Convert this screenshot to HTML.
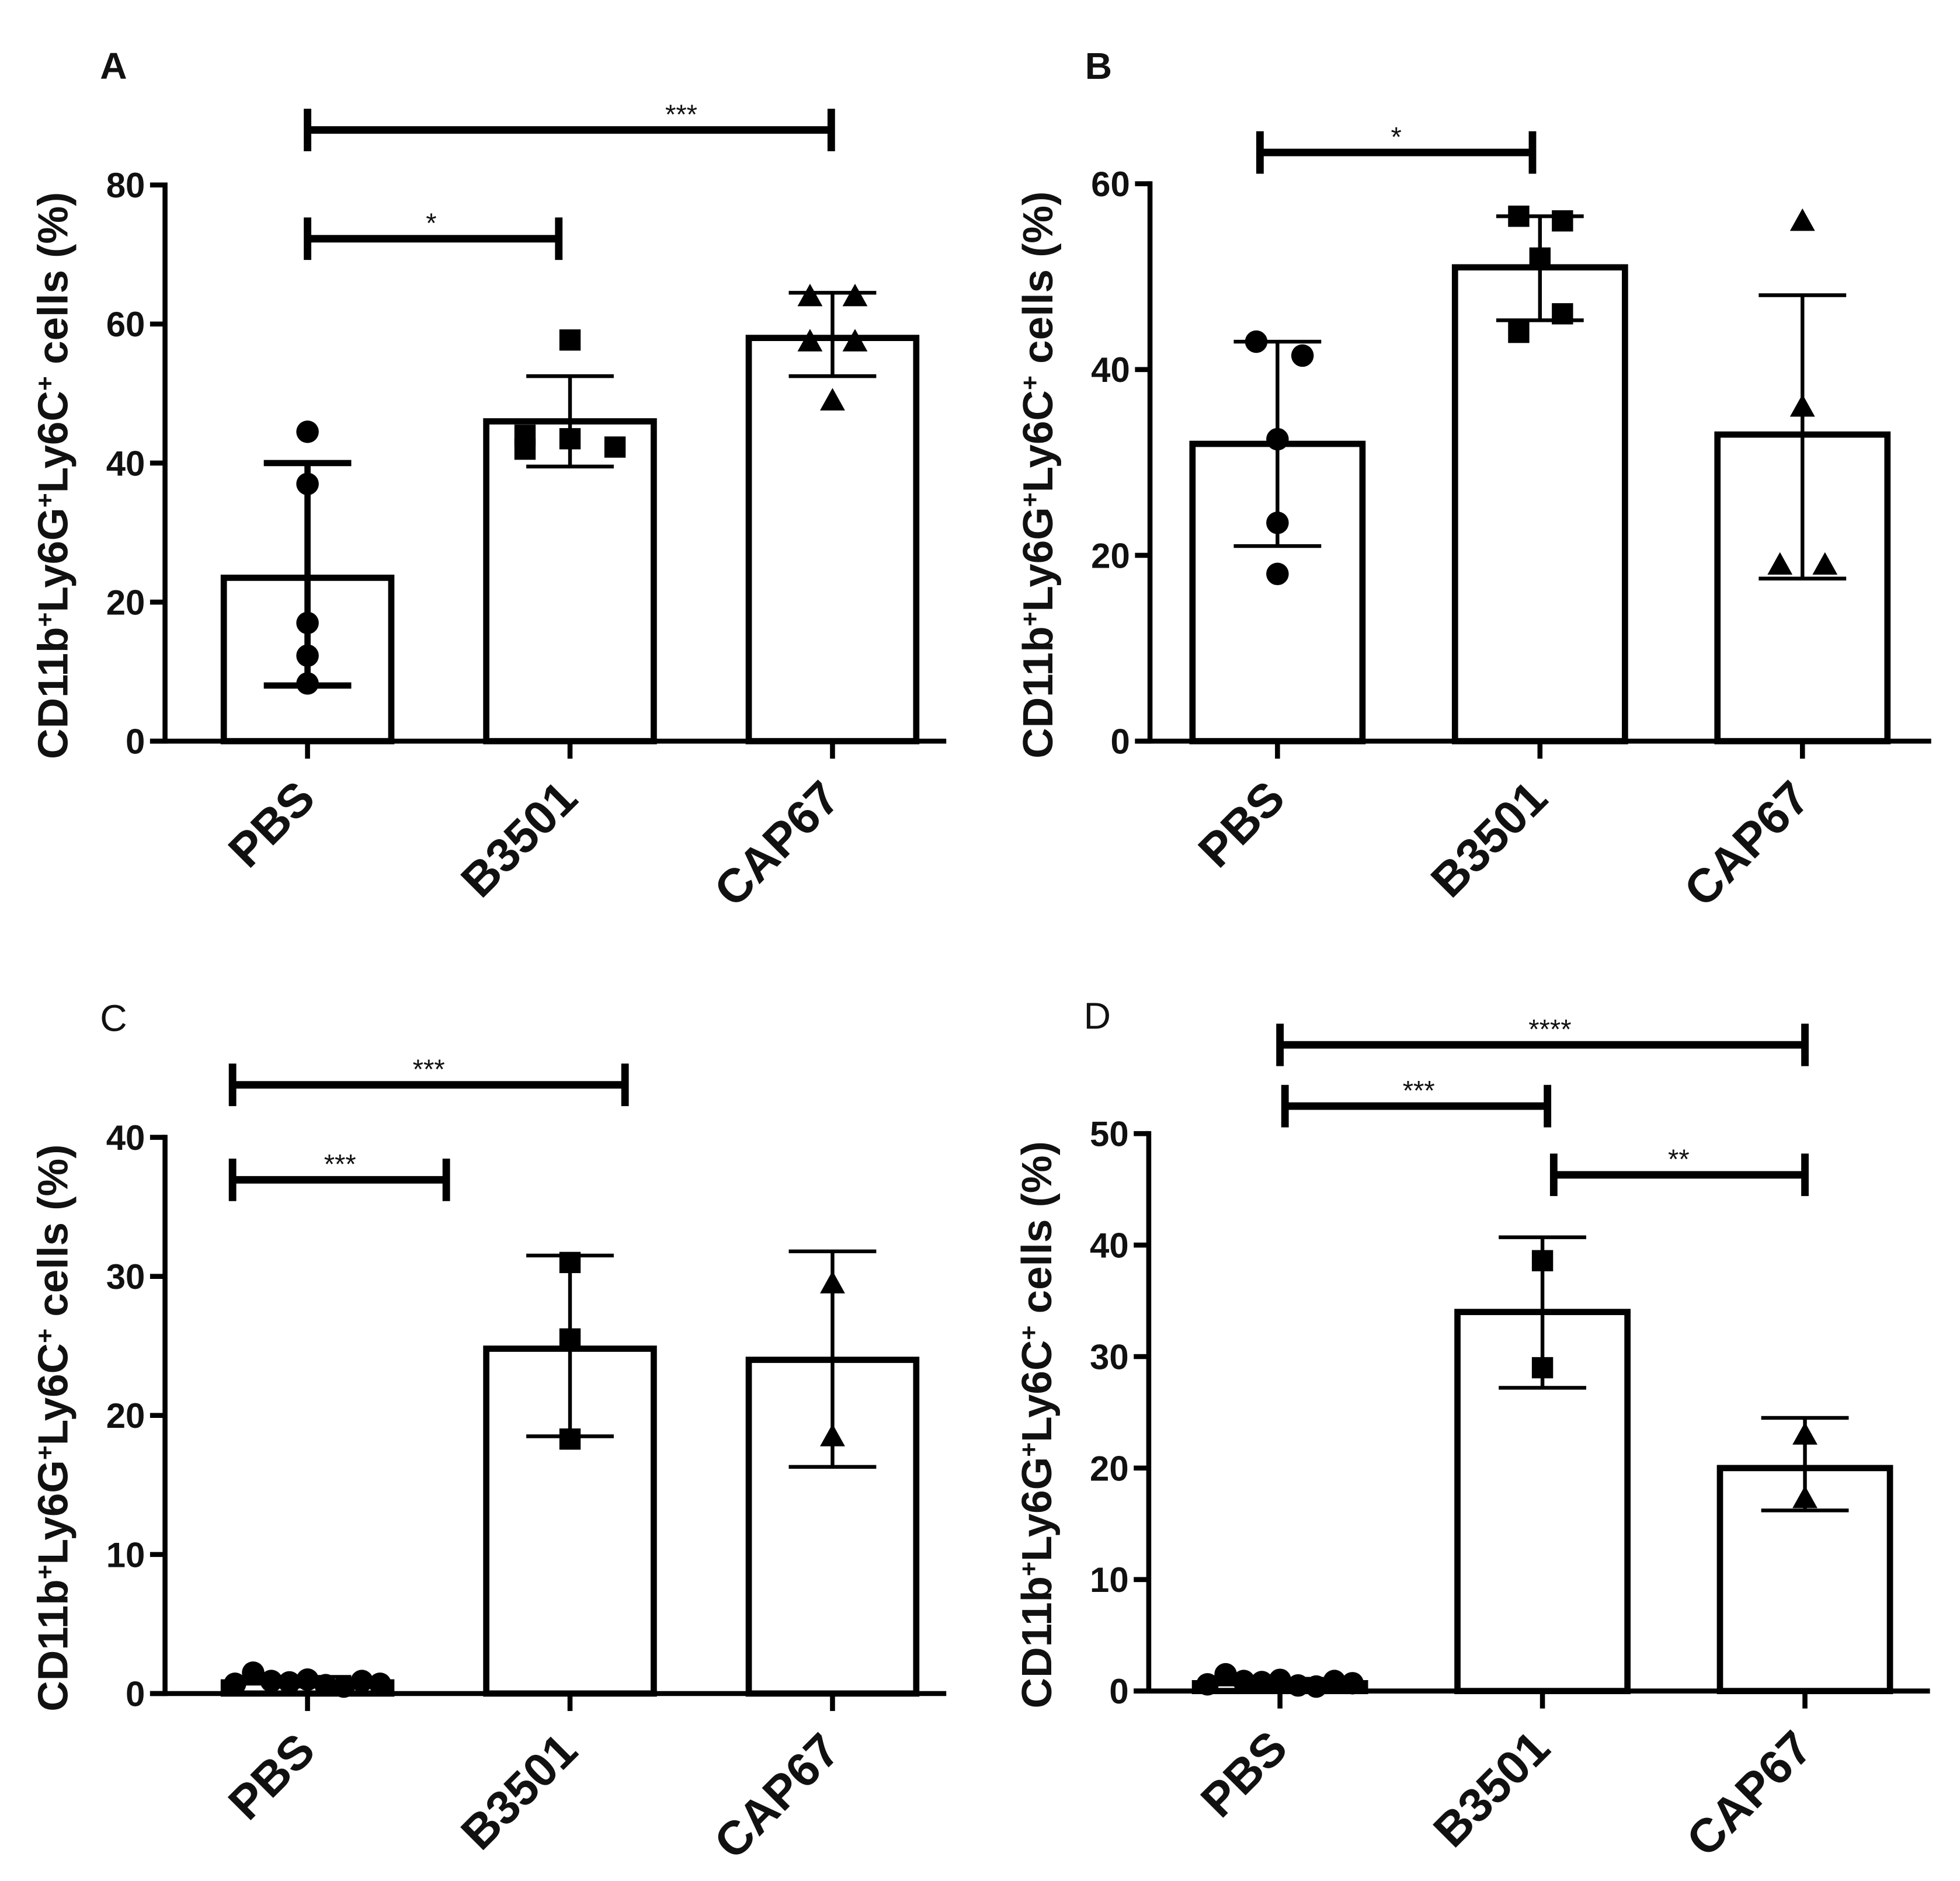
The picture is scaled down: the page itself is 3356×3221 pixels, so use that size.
<!DOCTYPE html>
<html><head><meta charset="utf-8"><style>
html,body{margin:0;padding:0;background:#fff}
svg{display:block}
text{font-family:"Liberation Sans",Arial,sans-serif;fill:#111}
</style></head><body>
<svg id="fig" width="3356" height="3221" viewBox="0 0 1568 1505" xmlns="http://www.w3.org/2000/svg"></svg>
<script>
const categories = ["PBS","B3501","CAP67"];
// Panel A
const aMeans = [23.5, 46, 58];
const aErrLo = [8, 39.5, 52.5];
const aErrHi = [40, 52.5, 64.5];
const aPbs = [44.5, 37, 17, 12.3, 8.3];
const aB35 = [57.7, 44, 42, 43.5, 42.3];
const aCap = [64, 64, 57.5, 57.5, 49];
const aTicks = [0, 20, 40, 60, 80];
// Panel B
const bMeans = [32, 51, 33];
const bErrLo = [21, 45.3, 17.5];
const bErrHi = [43, 56.5, 48];
const bPbs = [43, 41.5, 32.5, 23.5, 18];
const bB35 = [56.5, 56, 52, 46, 44];
const bCap = [56, 36, 19, 19];
const bTicks = [0, 20, 40, 60];
// Panel C
const cMeans = [0.8, 24.8, 24];
const cErrLo = [0.5, 18.5, 16.3];
const cErrHi = [1.2, 31.5, 31.8];
const cPbs = [0.7, 1.5, 0.9, 0.8, 1.0, 0.6, 0.5, 0.9, 0.7];
const cB35 = [31, 25.5, 18.3];
const cCap = [29.5, 18.5];
const cTicks = [0, 10, 20, 30, 40];
// Panel D
const dMeans = [0.7, 34, 20];
const dErrLo = [0.4, 27.2, 16.2];
const dErrHi = [1.1, 40.7, 24.5];
const dPbs = [0.6, 1.5, 0.9, 0.8, 1.0, 0.5, 0.4, 0.9, 0.7];
const dB35 = [38.6, 29];
const dCap = [23, 17.3];
const dTicks = [0, 10, 20, 30, 40, 50];

const NS="http://www.w3.org/2000/svg";
const svg=document.getElementById('fig');
function mk(tag,attrs,parent){const e=document.createElementNS(NS,tag);for(const k in attrs)e.setAttribute(k,attrs[k]);(parent||svg).appendChild(e);return e;}

function panel(p){
  const g=mk('g',{});
  
  
  const y=v=>p.y0-(v/p.max)*(p.y0-p.yTop);
  const cx=i=>p.x0+i*p.step;
  const L=mk('text',{x:p.ax-52,y:p.y0-530,'font-size':30,'font-weight':p.boldLetter?'bold':'normal'},g);L.textContent=p.id;
  
  
  const t=mk('text',{transform:`translate(${p.ax-78},${(p.y0+p.yTop)/2+10}) rotate(-90)`,'text-anchor':'middle','font-size':34,'font-weight':'bold'},g);
  
  
  const parts=[["CD11b",0],["+",1],["Ly6G",0],["+",1],["Ly6C",0],["+",1],["  cells (%)",0]];
  parts.forEach(([s,sup])=>{const ts=mk('tspan',sup?{'baseline-shift':'super','font-size':20}:{},t);ts.textContent=s;});
  p.means.forEach((m,i)=>{
    const r=mk('rect',{x:cx(i)-p.bw/2,y:y(m),width:p.bw,height:p.y0-y(m),fill:'#fff',stroke:'#000','stroke-width':5},g);
    
    
  });
  p.means.forEach((m,i)=>{
    const eg=mk('g',{stroke:'#000','stroke-width':i==0&&p.thickPbs?5:3},g);
    
    
    mk('line',{x1:cx(i),x2:cx(i),y1:y(p.lo[i]),y2:y(p.hi[i])},eg);
    mk('line',{x1:cx(i)-35,x2:cx(i)+35,y1:y(p.lo[i]),y2:y(p.lo[i])},eg);
    mk('line',{x1:cx(i)-35,x2:cx(i)+35,y1:y(p.hi[i]),y2:y(p.hi[i])},eg);
  });
  const ptsets=[p.pbs,p.b35,p.cap];
  ptsets.forEach((arr,i)=>{
    const n=arr.length;
    arr.forEach((v,j)=>{
      let dx=0;
      if(p.spread&&i==0){dx=-58+j*(116/(n-1));}
      else if(p.offs&&p.offs[i]) dx=p.offs[i][j]||0;
      const X=cx(i)+dx,Y=y(v);let e;
      if(i==0) e=mk('circle',{cx:X,cy:Y,r:9,fill:'#000'},g);
      else if(i==1) e=mk('rect',{x:X-8.5,y:Y-8.5,width:17,height:17,fill:'#000'},g);
      else e=mk('polygon',{points:`${X},${Y-10} ${X-10},${Y+8} ${X+10},${Y+8}`,fill:'#000'},g);
      
      
    });
  });
  const ax=mk('g',{stroke:'#000','stroke-width':4},g);
  
  
  mk('line',{x1:p.ax,x2:p.ax,y1:p.yTop-2,y2:p.y0+2},ax);
  mk('line',{x1:p.ax-12,x2:p.ax+625,y1:p.y0,y2:p.y0},ax);
  p.ticks.forEach(v=>{
    mk('line',{x1:p.ax-12,x2:p.ax,y1:y(v),y2:y(v)},ax);
    const tl=mk('text',{x:p.ax-16,y:y(v)+10,'text-anchor':'end','font-size':28,'font-weight':'bold'},g);
    tl.textContent=v;
    
    
  });
  categories.forEach((c,i)=>{
    mk('line',{x1:cx(i),x2:cx(i),y1:p.y0,y2:p.y0+14},ax);
    const xl=mk('text',{transform:`translate(${cx(i)+8},${p.y0+48}) rotate(-45)`,'text-anchor':'end','font-size':38,'font-weight':'bold'},g);
    xl.textContent=c;
    
    
  });
  p.sig.forEach(s=>{
    const sg=mk('g',{stroke:'#000','stroke-width':6},g);
    
    
    mk('line',{x1:s[0],x2:s[1],y1:s[2],y2:s[2]},sg);
    mk('line',{x1:s[0],x2:s[0],y1:s[2]-17,y2:s[2]+17},sg);
    mk('line',{x1:s[1],x2:s[1],y1:s[2]-17,y2:s[2]+17},sg);
    const st=mk('text',{x:s[4]!==undefined?s[4]:(s[0]+s[1])/2,y:s[2]-5,'text-anchor':'middle','font-size':22,fill:'#444'},g);
    st.textContent=s[3];
    
    
  });
}

panel({id:'A',boldLetter:true,ax:132,y0:593,yTop:148,max:80,x0:246,step:210,bw:134,means:aMeans,lo:aErrLo,hi:aErrHi,ticks:aTicks,
  pbs:aPbs,b35:aB35,cap:aCap,thickPbs:true,
  offs:[null,[0,-36,-36,0,36],[-18,18,-18,18,0]],
  sig:[[246,665,104,'***',545],[246,447,191,'*',345]]});
panel({id:'B',boldLetter:true,ax:920,y0:593,yTop:147,max:60,x0:1022,step:210,bw:136,means:bMeans,lo:bErrLo,hi:bErrHi,ticks:bTicks,
  pbs:bPbs,b35:bB35,cap:bCap,
  offs:[[-17,20,0,0,0],[-17,18,0,18,-17],[0,0,-18,18]],
  sig:[[1008,1226,122,'*',1117]]});
panel({id:'C',ax:132,y0:1355,yTop:910,max:40,x0:246,step:210,bw:134,means:cMeans,lo:cErrLo,hi:cErrHi,ticks:cTicks,
  pbs:cPbs,b35:cB35,cap:cCap,spread:true,
  sig:[[186,500,868,'***',343],[186,357,944,'***',272]]});
panel({id:'D',ax:919,y0:1353,yTop:907,max:50,x0:1024,step:210,bw:136,means:dMeans,lo:dErrLo,hi:dErrHi,ticks:dTicks,
  pbs:dPbs,b35:dB35,cap:dCap,spread:true,
  sig:[[1024,1444,836,'****',1240],[1028,1238,885,'***',1135],[1243,1444,940,'**',1343]]});
</script>
</body></html>
